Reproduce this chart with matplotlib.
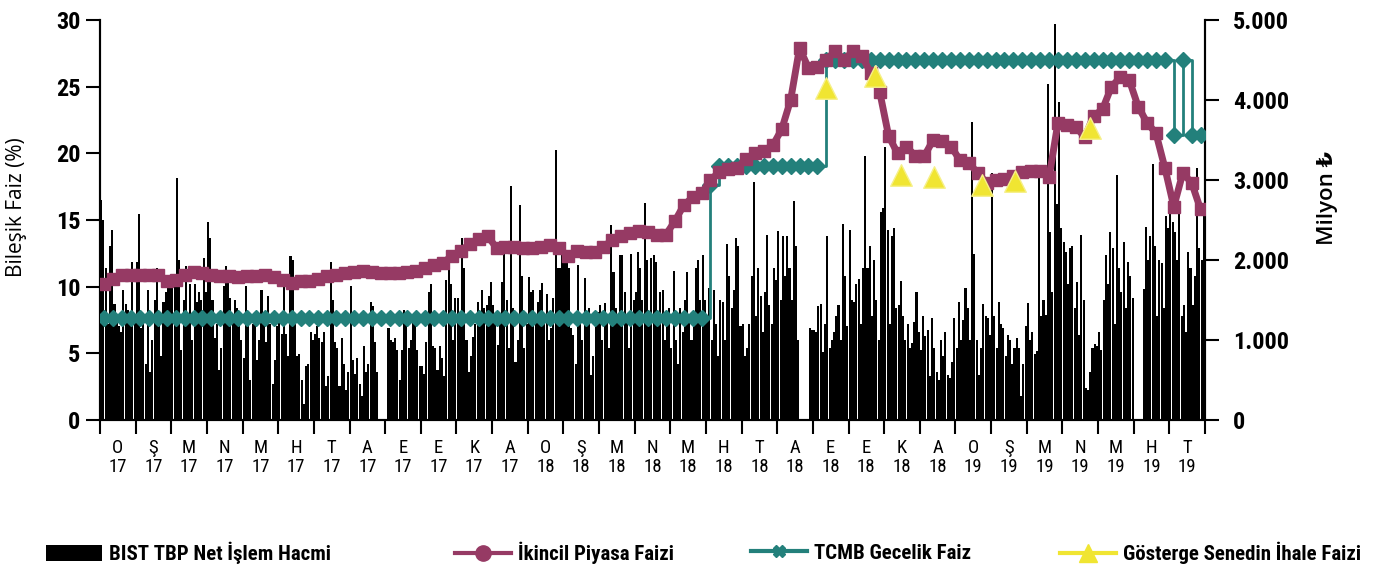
import numpy as np
import matplotlib.pyplot as plt
from matplotlib import font_manager as fm
from matplotlib.lines import Line2D
from matplotlib.patches import Patch

# dar (condensed) bir yazi tipi bul, yoksa Liberation Sans kullan
tercih = ['Liberation Sans Narrow', 'Roboto Condensed', 'Open Sans Condensed',
          'Noto Sans Condensed', 'DejaVu Sans', 'Noto Sans', 'Open Sans', 'Roboto']
dar = {}
for f in fm.fontManager.ttflist:
    st = str(f.stretch).lower()
    if 'condensed' in st or 'narrow' in f.name.lower() or 'condensed' in f.name.lower():
        dar.setdefault(f.name, st)
secilen = None
for ad in tercih:
    if ad in dar:
        secilen = ad
        break
if secilen is None and dar:
    secilen = sorted(dar)[0]
if secilen is not None:
    plt.rcParams['font.family'] = [secilen, 'DejaVu Sans']
    st = dar[secilen]
    plt.rcParams['font.stretch'] = st if st in ('condensed', 'semi-condensed', 'extra-condensed',
                                               'ultra-condensed') else 'normal'
    k = 1.0
else:
    plt.rcParams['font.family'] = ['Liberation Sans', 'DejaVu Sans']
    k = 0.8

# aylar (Ocak 2017 - Temmuz 2019), x ekseni: ay indeksi
ay_harf = ['O', 'Ş', 'M', 'N', 'M', 'H', 'T', 'A', 'E', 'E', 'K', 'A']
yillar = ['17', '18', '19']
n_ay = 31
ay_etiket = [ay_harf[i % 12] + '\n' + yillar[i // 12] for i in range(n_ay)]

# BIST TBP net islem hacmi (milyon TL), ay basina 16 deger
hacim = [
    [2750, 2500, 1900, 1200, 2170, 2370, 1450, 1330, 1170, 1100, 1630, 1450, 1370, 1200, 1970, 1300],
    [1970, 2570, 1150, 1200, 700, 1620, 600, 1000, 1500, 1900, 1350, 800, 1470, 1600, 1700, 1800],
    [1650, 1700, 3020, 2000, 870, 1500, 1930, 1200, 1700, 1000, 1700, 1470, 1600, 1500, 2020, 1600],
    [2470, 2270, 1500, 1030, 1200, 630, 900, 1670, 1930, 1800, 1530, 1300, 1500, 1400, 1200, 1000],
    [770, 1670, 1300, 500, 1200, 1330, 750, 1000, 1630, 1200, 980, 1550, 1200, 450, 750, 1170],
    [1220, 1080, 1670, 1070, 800, 2050, 2000, 1300, 800, 830, 500, 200, 680, 700, 1100, 1000],
    [1080, 1170, 1030, 970, 1100, 430, 550, 1970, 1500, 970, 900, 430, 1020, 700, 380, 600],
    [1680, 750, 580, 780, 450, 300, 920, 600, 700, 1480, 1420, 970, 600, 0, 0, 0],
    [0, 1150, 1000, 970, 1030, 870, 500, 880, 1370, 1200, 900, 1000, 1330, 1300, 870, 680],
    [680, 580, 970, 1600, 1700, 930, 900, 620, 930, 780, 550, 1750, 1950, 1700, 1000, 1520],
    [1520, 1200, 2270, 1900, 1000, 600, 800, 1040, 1200, 1480, 1250, 1630, 1400, 1440, 1550, 1730],
    [1440, 1300, 940, 1200, 1730, 2190, 1500, 900, 2920, 1400, 730, 1000, 2690, 1800, 900, 1200],
    [1790, 1600, 1630, 1300, 1480, 1630, 1710, 1200, 1580, 1000, 1150, 1520, 3380, 1900, 1900, 2230],
    [2230, 2000, 1900, 1150, 1060, 700, 1940, 1300, 1000, 1770, 1300, 1400, 560, 800, 1200, 1350],
    [1440, 1000, 1460, 1230, 900, 2440, 1850, 1400, 1300, 2060, 2060, 1600, 1250, 900, 2080, 1500],
    [1600, 2100, 1900, 1500, 2710, 2000, 1300, 2020, 2060, 1980, 1200, 1600, 1630, 1000, 1200, 1400],
    [900, 1860, 1000, 700, 1400, 1100, 1500, 1850, 1300, 1000, 1250, 1900, 2000, 1500, 2060, 1500],
    [1300, 1650, 1000, 1630, 1200, 800, 1500, 1480, 1000, 2200, 1800, 1400, 1630, 2280, 2170, 1180],
    [1200, 800, 900, 1200, 1800, 2970, 1300, 1900, 1550, 1100, 1600, 2310, 1440, 1200, 1900, 1750],
    [2360, 1500, 2300, 1800, 2300, 1900, 1500, 2740, 2180, 1000, 0, 0, 0, 0, 1150, 1120],
    [1120, 1100, 1430, 1450, 850, 1200, 2300, 900, 1000, 1100, 1300, 1440, 1000, 2450, 1800, 1180],
    [2380, 1500, 1480, 1700, 1760, 1200, 1900, 3300, 1900, 2170, 1300, 2000, 1500, 1000, 2600, 2650],
    [3410, 2380, 1200, 2300, 2400, 1400, 1440, 1740, 1300, 1000, 1200, 900, 960, 1230, 1600, 1100],
    [880, 1300, 1050, 1130, 550, 1270, 900, 600, 500, 1000, 800, 1100, 560, 520, 730, 1270],
    [900, 1470, 1000, 1250, 1650, 1400, 1000, 3730, 2080, 1000, 560, 900, 1450, 1300, 1270, 1060],
    [3090, 1300, 900, 1480, 1200, 1150, 800, 1060, 1000, 700, 900, 1020, 900, 300, 700, 1170],
    [1460, 1000, 1100, 830, 860, 3020, 1300, 1500, 1310, 4200, 2350, 1600, 4950, 2700, 3970, 2400],
    [2230, 2100, 1700, 2150, 2170, 1400, 1730, 1060, 2310, 1500, 400, 380, 600, 900, 950, 930],
    [1100, 880, 1500, 2060, 1700, 2350, 2150, 1200, 3060, 1900, 1600, 2230, 1400, 1980, 1800, 1520],
    [0, 0, 0, 0, 1640, 2410, 2000, 2300, 3200, 2180, 1300, 2000, 1960, 1400, 2550, 2400],
    [2690, 2480, 2350, 2000, 2730, 1300, 1440, 1100, 2100, 1900, 1440, 1800, 3150, 2150, 2000, 2600],
]

# Ikincil piyasa faizi (%), ay basina 4 deger
ikincil = [
    [10.2, 10.6, 10.9, 10.9], [10.9, 10.9, 10.9, 10.4], [10.5, 10.9, 11.1, 11.0],
    [10.9, 10.8, 10.8, 10.7], [10.8, 10.8, 10.9, 10.7], [10.5, 10.3, 10.4, 10.4],
    [10.6, 10.8, 10.9, 11.0], [11.1, 11.2, 11.1, 11.0], [11.0, 11.0, 11.1, 11.2],
    [11.4, 11.6, 11.8, 12.3], [12.7, 13.2, 13.6, 13.8], [12.9, 13.0, 13.0, 12.9],
    [12.9, 13.0, 13.1, 12.9], [12.3, 12.7, 12.6, 12.6], [13.0, 13.5, 13.8, 14.0],
    [14.2, 14.1, 13.9, 13.9], [14.9, 16.1, 16.7, 17.0], [18.0, 18.6, 18.8, 18.9],
    [19.6, 20.0, 20.2, 20.6], [21.8, 24.0, 27.9, 26.4], [26.5, 27.0, 27.7, 27.0],
    [27.7, 27.3, 26.0, 24.6], [21.3, 20.0, 20.5, 19.8], [19.8, 21.0, 20.9, 20.5],
    [19.5, 19.3, 18.5, 17.8], [18.0, 18.1, 18.3, 18.6], [18.7, 18.7, 18.2, 22.3],
    [22.1, 22.0, 21.2, 22.8], [23.3, 25.0, 25.7, 25.5], [23.5, 22.3, 21.5, 18.9],
    [16.0, 18.5, 17.8, 15.8],
]

# TCMB gecelik faiz (%), ay basina 4 deger
tcmb = [
    [7.65, 7.65, 7.65, 7.65], [7.65, 7.65, 7.65, 7.65], [7.65, 7.65, 7.65, 7.65],
    [7.65, 7.65, 7.65, 7.65], [7.65, 7.65, 7.65, 7.65], [7.65, 7.65, 7.65, 7.65],
    [7.65, 7.65, 7.65, 7.65], [7.65, 7.65, 7.65, 7.65], [7.65, 7.65, 7.65, 7.65],
    [7.65, 7.65, 7.65, 7.65], [7.65, 7.65, 7.65, 7.65], [7.65, 7.65, 7.65, 7.65],
    [7.65, 7.65, 7.65, 7.65], [7.65, 7.65, 7.65, 7.65], [7.65, 7.65, 7.65, 7.65],
    [7.65, 7.65, 7.65, 7.65], [7.65, 7.65, 7.65, 7.65], [17.6, 19.05, 19.05, 19.05],
    [19.05, 19.05, 19.05, 19.05], [19.05, 19.05, 19.05, 19.05], [19.05, 27.0, 27.0, 27.0],
    [27.0, 27.0, 27.0, 27.0], [27.0, 27.0, 27.0, 27.0], [27.0, 27.0, 27.0, 27.0],
    [27.0, 27.0, 27.0, 27.0], [27.0, 27.0, 27.0, 27.0], [27.0, 27.0, 27.0, 27.0],
    [27.0, 27.0, 27.0, 27.0], [27.0, 27.0, 27.0, 27.0], [27.0, 27.0, 27.0, 27.0],
    [21.4, 27.0, 21.4, 21.4],
]

# Gosterge senedin ihale faizi: (yil, ay, gun) ve faiz
ihale_tarih = [(2018, 9, 12), (2018, 10, 24), (2018, 11, 15), (2018, 12, 13),
               (2019, 1, 24), (2019, 2, 20), (2019, 4, 24)]
ihale_faiz = [24.9, 25.8, 18.4, 18.2, 17.6, 17.9, 21.9]

sag_etiket = ['0', '1.000', '2.000', '3.000', '4.000', '5.000']

gun_sayisi = [31, 28, 31, 30, 31, 30, 31, 31, 30, 31, 30, 31]


def ay_indeksi(t):
    y, m, d = t
    return (y - 2017) * 12 + (m - 1) + (d - 1) / gun_sayisi[m - 1]


hacim_d = np.array(hacim, dtype=float).ravel()
x_bar = (np.arange(hacim_d.size) + 0.5) / 16
ikincil_d = np.array(ikincil).ravel()
tcmb_d = np.array(tcmb).ravel()
x_hafta = (np.arange(ikincil_d.size) + 0.5) / 4
x_ihale = [ay_indeksi(t) for t in ihale_tarih]

mor = '#963A64'
yesil = '#23807B'
sari = '#F0E532'

fig = plt.figure(figsize=(13.77, 5.68), dpi=100)
ax = fig.add_axes([100 / 1377, 1 - 420 / 568, 1105 / 1377, 400 / 568])
ax2 = ax.twinx()

ax2.bar(x_bar, hacim_d, width=0.92 / 16, color='black', linewidth=0)
ax.set_zorder(ax2.get_zorder() + 1)
ax.patch.set_visible(False)

ax.plot(x_hafta, tcmb_d, color=yesil, lw=2, marker='D', ms=8.5, drawstyle='steps-post',
        mec=yesil, zorder=3)
ax.plot(x_hafta, ikincil_d, color=mor, lw=5, marker='s', ms=8.5, mec=mor, zorder=4)
ax.scatter(x_ihale, ihale_faiz, marker='^', s=240, color=sari, edgecolors='#F6F08A',
           linewidths=1, zorder=5)

ax.set_xlim(0, n_ay)
ax.set_ylim(0, 30)
ax2.set_ylim(0, 5000)
ax.set_yticks(range(0, 31, 5))
ax2.set_yticks(range(0, 5001, 1000))
ax2.set_yticklabels(sag_etiket)

ax.set_xticks(np.arange(n_ay + 1))
ax.set_xticklabels([])
ax.set_xticks(np.arange(n_ay) + 0.5, minor=True)
ax.set_xticklabels(ay_etiket, minor=True, fontsize=13.5 * k, linespacing=1.05)
ax.tick_params(axis='x', which='major', length=10, width=1.5, direction='out')
ax.tick_params(axis='x', which='minor', length=0, pad=14)
ax.tick_params(axis='y', length=10, width=1.5, direction='out', pad=4, labelsize=17.5 * k)
ax2.tick_params(axis='y', length=10, width=1.5, direction='out', pad=10, labelsize=17.5 * k)
for lab in ax.get_yticklabels() + ax2.get_yticklabels():
    lab.set_fontweight('bold')

for a in (ax, ax2):
    a.spines['top'].set_visible(False)
    for s in ('left', 'right', 'bottom'):
        a.spines[s].set_linewidth(1.5)

fig.text(17 / 1377, 1 - 207 / 568, 'Bileşik Faiz (%)', rotation=90, ha='center',
         va='center', fontsize=15, family=['Open Sans', 'DejaVu Sans'], stretch='normal')
fig.text(1327 / 1377, 1 - 198 / 568, 'Milyon ₺', rotation=90, ha='center',
         va='center', fontsize=16, family=['Open Sans', 'DejaVu Sans'], stretch='normal',
         weight='semibold')

gosterim = [
    (Patch(facecolor='black'), 'BIST TBP Net İşlem Hacmi', 46),
    (Line2D([], [], color=mor, lw=3, marker='o', ms=11), 'İkincil Piyasa Faizi', 455),
    (Line2D([], [], color=yesil, lw=3, marker='X', ms=8), 'TCMB Gecelik Faiz', 751),
    (Line2D([], [], color=sari, lw=3, marker='^', ms=13), 'Gösterge Senedin İhale Faizi', 1060),
]
for h, lab, xp in gosterim:
    fig.legend([h], [lab], loc='center left', bbox_to_anchor=(xp / 1377, 1 - 553 / 568),
               frameon=False, borderpad=0, borderaxespad=0, handlelength=56 / (15 * k * 1.389),
               handleheight=0.8, handletextpad=0.35, prop={'weight': 'bold', 'size': 15 * k})

fig.savefig('out.png', dpi=100)
